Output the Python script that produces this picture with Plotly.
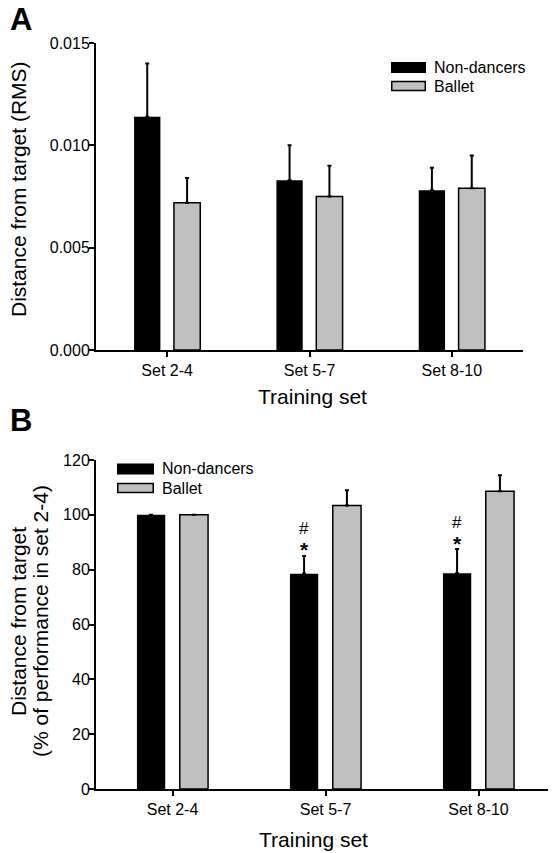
import plotly.graph_objects as go

# The page body adds an 8 px margin, so the figure is drawn 8 px in from the window edge.
OX, OY = 8, 8
W, H = 556 - OX, 853 - OY
FONT = "Liberation Sans, Arial, sans-serif"

# ---- data ----
categories = ["Set 2-4", "Set 5-7", "Set 8-10"]
groups = ["Non-dancers", "Ballet"]

rms_non = [0.0114, 0.0083, 0.0078]
rms_non_err = [0.0026, 0.0017, 0.0011]
rms_ballet = [0.0072, 0.0075, 0.0079]
rms_ballet_err = [0.0012, 0.0015, 0.0016]

pct_non = [100, 78.5, 78.7]
pct_non_err = [0, 6.5, 8.8]
pct_ballet = [100, 103.4, 108.6]
pct_ballet_err = [0, 5.6, 5.8]

sig_hash = ["", "#", "#"]
sig_star = ["", "*", "*"]

yA_ticks = [0, 0.005, 0.010, 0.015]
yA_ticktext = ["0.000", "0.005", "0.010", "0.015"]
yB_ticks = [0, 20, 40, 60, 80, 100, 120]

# ---- helpers (window pixels -> paper fraction) ----
def px(x):
    return (x - OX) / W

def py(y):
    return 1 - (y - OY) / H

xpos = list(range(len(categories)))
BW = 0.185
OFF_NON = -0.2325
OFF_BAL = 0.0475
C_NON = OFF_NON + BW / 2
GRAY = "#c0c0c0"

fig = go.Figure()

def add_bars(vals, errs, color, off, xa, ya, border):
    fig.add_trace(go.Bar(
        x=xpos, y=vals, width=BW, offset=off,
        marker=dict(color=color, line=dict(color="black", width=border)),
        error_y=dict(type="data", array=errs, arrayminus=[0] * len(errs),
                     symmetric=False, color="black", thickness=2, width=2),
        xaxis=xa, yaxis=ya, showlegend=False))

add_bars(rms_non, rms_non_err, "black", OFF_NON, "x", "y", 0)
add_bars(rms_ballet, rms_ballet_err, GRAY, OFF_BAL, "x", "y", 1.5)
add_bars(pct_non, pct_non_err, "black", OFF_NON, "x2", "y2", 0)
add_bars(pct_ballet, pct_ballet_err, GRAY, OFF_BAL, "x2", "y2", 1.5)

axis_common = dict(showline=True, linecolor="black", linewidth=2, ticks="outside",
                   ticklen=5, tickwidth=1.5, tickcolor="black", showgrid=False,
                   zeroline=False, automargin=False,
                   tickfont=dict(family=FONT, size=16, color="black"))

fig.update_layout(
    template="none",
    width=W, height=H, margin=dict(l=0, r=0, t=0, b=0, pad=0, autoexpand=False),
    paper_bgcolor="white", plot_bgcolor="white", barmode="overlay",
    font=dict(family=FONT, color="black"),
    xaxis=dict(domain=[px(96), px(523)], anchor="y", range=[-0.5, 2.5],
               tickvals=xpos, ticktext=categories, **axis_common),
    yaxis=dict(domain=[py(350), py(43)], anchor="x", range=[0, 0.015],
               tickvals=yA_ticks, ticktext=yA_ticktext, ticklabelstandoff=-4,
               **axis_common),
    xaxis2=dict(domain=[px(96), px(555)], anchor="y2", range=[-0.5, 2.5],
                tickvals=xpos, ticktext=categories, **axis_common),
    yaxis2=dict(domain=[py(789), py(460)], anchor="x2", range=[0, 120],
                tickvals=yB_ticks, ticklabelstandoff=-4, **axis_common),
)

ann = []
def text(t, x, y, size, xanchor="center", yanchor="middle", angle=0):
    ann.append(dict(text=t, x=px(x), y=py(y), xref="paper", yref="paper",
                    xanchor=xanchor, yanchor=yanchor, textangle=angle,
                    showarrow=False, font=dict(family=FONT, size=size, color="black")))

# panel letters
text("<b>A</b>", OX, 39, 31, xanchor="left", yanchor="bottom")
text("<b>B</b>", OX, 440, 31, xanchor="left", yanchor="bottom")
# axis titles
text("Distance from target (RMS)", 19, 189, 21, angle=-90)
text("Distance from target", 18, 622, 21, angle=-90)
text("(% of performance in set 2-4)", 40, 621, 21, angle=-90)
text("Training set", 312, 396, 21)
text("Training set", 313, 839, 21)

# significance marks
for i in range(len(categories)):
    top = pct_non[i] + pct_non_err[i]
    if sig_star[i]:
        ann.append(dict(text="<b>" + sig_star[i] + "</b>", x=xpos[i] + C_NON, y=top,
                        xref="x2", yref="y2", xanchor="center", yanchor="middle",
                        yshift=6, showarrow=False,
                        font=dict(family=FONT, size=21, color="black")))
    if sig_hash[i]:
        ann.append(dict(text=sig_hash[i], x=xpos[i] + C_NON, y=top,
                        xref="x2", yref="y2", xanchor="center", yanchor="middle",
                        yshift=27, showarrow=False,
                        font=dict(family=FONT, size=17, color="black")))

# legends
shapes = []
def legend(x0, x1, y_black, y_gray, tx):
    hb = 11
    shapes.append(dict(type="rect", xref="paper", yref="paper", x0=px(x0), x1=px(x1),
                       y0=py(y_black + hb / 2), y1=py(y_black - hb / 2),
                       fillcolor="black", line=dict(width=0)))
    shapes.append(dict(type="rect", xref="paper", yref="paper", x0=px(x0 + 0.75), x1=px(x1 - 0.75),
                       y0=py(y_gray + 4.5), y1=py(y_gray - 4.5),
                       fillcolor=GRAY, line=dict(color="black", width=1.5)))
    for name, yy in zip(groups, [y_black, y_gray]):
        text(name, tx, yy, 16, xanchor="left")

legend(391, 426, 67.5, 86, 432)
legend(117, 154, 469, 488, 160)

fig.update_layout(annotations=ann, shapes=shapes)
fig.write_html("out.html")
